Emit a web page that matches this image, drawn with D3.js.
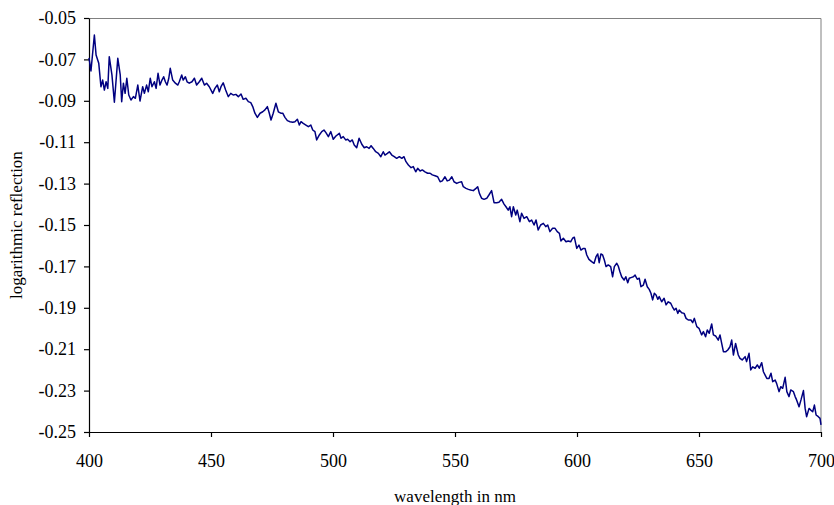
<!DOCTYPE html>
<html>
<head>
<meta charset="utf-8">
<script src="https://cdn.jsdelivr.net/npm/d3@7"></script>
<style>
  body { margin: 0; background: #fff; }
  text { font-family: "Liberation Serif", "Times New Roman", serif; }
</style>
</head>
<body>
<div id="chart"></div>
<script>
var width = 834;
var height = 505;

// wavelength (nm) and logarithmic reflection
var wavelength = [
  400.0, 400.8, 402.2, 402.9, 404.0, 404.9, 405.6, 406.3, 407.0, 407.7,
  408.3, 409.4, 410.4, 411.8, 412.8, 413.4, 414.1, 414.8, 415.5, 416.3,
  417.2, 418.2, 419.0, 420.0, 420.9, 422.0, 422.7, 423.6, 424.3, 425.1,
  425.8, 426.8, 427.5, 428.3, 429.1, 429.9, 430.6, 431.3, 432.0, 432.7,
  433.3, 434.3, 435.4, 436.4, 437.0, 438.0, 438.6, 439.5, 440.2, 441.1,
  442.2, 443.2, 444.1, 445.2, 446.2, 447.3, 448.2, 449.3, 450.7, 451.6,
  452.6, 453.4, 454.1, 455.0, 456.0, 457.1, 458.1, 459.1, 460.2, 461.2,
  462.3, 463.2, 464.3, 465.3, 466.3, 467.1, 468.0, 469.0, 470.1, 471.2,
  472.1, 473.1, 473.9, 474.6, 475.5, 476.6, 477.6, 478.6, 479.4, 480.3,
  481.3, 482.4, 483.5, 484.4, 485.4, 486.2, 486.9, 487.8, 488.9, 489.9,
  490.9, 491.7, 492.6, 493.3, 494.4, 495.4, 496.3, 497.1, 498.1, 499.1,
  500.1, 501.2, 502.6, 503.3, 504.2, 505.2, 506.0, 507.0, 507.9, 508.7,
  509.7, 510.7, 511.8, 512.8, 513.8, 514.8, 515.6, 516.5, 517.5, 518.6,
  519.6, 520.6, 521.3, 522.3, 523.1, 524.1, 525.1, 526.1, 527.2, 528.2,
  529.1, 529.9, 530.9, 532.0, 532.9, 533.9, 534.7, 535.7, 536.6, 537.7,
  538.8, 539.8, 540.7, 541.8, 542.9, 543.9, 544.8, 545.9, 546.8, 547.7,
  548.7, 549.6, 550.7, 551.6, 552.7, 553.4, 554.5, 555.5, 556.4, 557.5,
  558.6, 559.3, 560.0, 560.9, 561.9, 563.0, 563.9, 565.0, 566.0, 567.1,
  568.0, 569.1, 570.1, 570.9, 571.8, 572.5, 573.2, 573.9, 574.9, 575.5,
  576.6, 577.3, 578.3, 579.4, 580.5, 581.4, 582.4, 583.2, 584.1, 585.1,
  586.2, 587.2, 588.0, 588.9, 590.0, 591.0, 591.9, 592.8, 593.4, 594.4,
  595.5, 596.4, 597.4, 598.2, 598.9, 599.9, 600.8, 601.6, 602.6, 603.3,
  604.0, 604.9, 606.0, 607.0, 607.8, 608.5, 609.1, 609.8, 610.5, 611.2,
  611.9, 612.8, 613.8, 614.6, 615.3, 616.3, 616.9, 617.6, 618.3, 619.3,
  620.0, 620.8, 621.4, 622.4, 623.1, 623.8, 624.7, 625.5, 626.2, 627.2,
  627.9, 628.8, 629.6, 630.3, 631.0, 631.7, 632.4, 633.1, 633.7, 634.7,
  635.7, 636.5, 637.4, 638.4, 639.1, 639.9, 640.6, 641.3, 641.9, 642.9,
  643.9, 644.7, 645.6, 646.7, 647.4, 648.1, 649.1, 650.0, 651.1, 651.8,
  652.7, 653.4, 654.2, 655.2, 655.9, 656.8, 657.9, 658.6, 659.3, 660.0,
  661.0, 661.8, 662.7, 663.4, 664.1, 665.0, 666.1, 666.8, 667.7, 668.9,
  669.5, 670.5, 671.2, 672.0, 673.0, 673.9, 674.7, 675.7, 676.4, 677.1,
  677.8, 678.7, 679.5, 680.2, 681.2, 681.8, 682.8, 683.5, 684.3, 685.3,
  686.0, 686.9, 687.6, 688.7, 689.4, 690.0, 691.0, 691.8, 692.8, 693.5,
  694.1, 695.1, 695.8, 696.6, 697.3, 698.0, 698.9, 699.6, 700.0
];

var reflection = [
  -0.0693, -0.0756, -0.0582, -0.0679, -0.0719, -0.0832, -0.0800, -0.0848, -0.0808, -0.0840,
  -0.0687, -0.0775, -0.0907, -0.0695, -0.0775, -0.0904, -0.0815, -0.0864, -0.0791, -0.0872,
  -0.0896, -0.0880, -0.0888, -0.0824, -0.0901, -0.0832, -0.0864, -0.0824, -0.0856, -0.0791,
  -0.0832, -0.0808, -0.0840, -0.0767, -0.0824, -0.0800, -0.0784, -0.0808, -0.0824, -0.0791,
  -0.0743, -0.0800, -0.0815, -0.0824, -0.0808, -0.0775, -0.0800, -0.0784, -0.0808, -0.0815,
  -0.0808, -0.0791, -0.0824, -0.0808, -0.0791, -0.0824, -0.0815, -0.0832, -0.0864, -0.0840,
  -0.0824, -0.0856, -0.0832, -0.0813, -0.0848, -0.0880, -0.0864, -0.0872, -0.0869, -0.0880,
  -0.0867, -0.0893, -0.0888, -0.0904, -0.0909, -0.0928, -0.0960, -0.0980, -0.0960, -0.0953,
  -0.0944, -0.0928, -0.0960, -0.0993, -0.0960, -0.0912, -0.0953, -0.0960, -0.0960, -0.0980,
  -0.0996, -0.1001, -0.1004, -0.1001, -0.0989, -0.1017, -0.1001, -0.1009, -0.1017, -0.1025,
  -0.1017, -0.1041, -0.1049, -0.1089, -0.1065, -0.1049, -0.1041, -0.1054, -0.1073, -0.1049,
  -0.1086, -0.1070, -0.1057, -0.1081, -0.1073, -0.1089, -0.1086, -0.1098, -0.1089, -0.1114,
  -0.1127, -0.1081, -0.1110, -0.1127, -0.1122, -0.1130, -0.1117, -0.1130, -0.1146, -0.1154,
  -0.1170, -0.1146, -0.1162, -0.1154, -0.1146, -0.1162, -0.1170, -0.1178, -0.1170, -0.1178,
  -0.1170, -0.1194, -0.1210, -0.1223, -0.1218, -0.1243, -0.1226, -0.1239, -0.1234, -0.1243,
  -0.1250, -0.1250, -0.1258, -0.1262, -0.1267, -0.1291, -0.1287, -0.1267, -0.1287, -0.1283,
  -0.1267, -0.1291, -0.1299, -0.1294, -0.1291, -0.1315, -0.1323, -0.1328, -0.1331, -0.1334,
  -0.1323, -0.1315, -0.1347, -0.1371, -0.1376, -0.1371, -0.1355, -0.1334, -0.1392, -0.1392,
  -0.1390, -0.1376, -0.1399, -0.1412, -0.1428, -0.1412, -0.1460, -0.1412, -0.1452, -0.1428,
  -0.1484, -0.1443, -0.1468, -0.1460, -0.1484, -0.1476, -0.1500, -0.1476, -0.1524, -0.1500,
  -0.1492, -0.1508, -0.1500, -0.1532, -0.1516, -0.1516, -0.1532, -0.1540, -0.1577, -0.1564,
  -0.1581, -0.1577, -0.1581, -0.1564, -0.1559, -0.1613, -0.1597, -0.1621, -0.1613, -0.1613,
  -0.1645, -0.1666, -0.1677, -0.1685, -0.1653, -0.1640, -0.1682, -0.1640, -0.1645, -0.1669,
  -0.1701, -0.1693, -0.1701, -0.1750, -0.1701, -0.1685, -0.1698, -0.1726, -0.1750, -0.1766,
  -0.1750, -0.1779, -0.1757, -0.1753, -0.1750, -0.1742, -0.1762, -0.1757, -0.1798, -0.1790,
  -0.1762, -0.1798, -0.1811, -0.1830, -0.1862, -0.1830, -0.1838, -0.1859, -0.1846, -0.1871,
  -0.1854, -0.1886, -0.1871, -0.1878, -0.1895, -0.1911, -0.1902, -0.1927, -0.1911, -0.1924,
  -0.1927, -0.1951, -0.1959, -0.1959, -0.1972, -0.1951, -0.1991, -0.1999, -0.2031, -0.2015,
  -0.2040, -0.2007, -0.2023, -0.1978, -0.2031, -0.2036, -0.2056, -0.2031, -0.2072, -0.2112,
  -0.2112, -0.2104, -0.2088, -0.2056, -0.2128, -0.2072, -0.2128, -0.2144, -0.2152, -0.2136,
  -0.2160, -0.2120, -0.2200, -0.2185, -0.2192, -0.2176, -0.2192, -0.2165, -0.2209, -0.2225,
  -0.2241, -0.2241, -0.2216, -0.2257, -0.2249, -0.2265, -0.2305, -0.2281, -0.2289, -0.2236,
  -0.2305, -0.2329, -0.2297, -0.2305, -0.2329, -0.2345, -0.2378, -0.2345, -0.2300, -0.2386,
  -0.2426, -0.2386, -0.2394, -0.2402, -0.2370, -0.2418, -0.2426, -0.2434, -0.2466
];

var xTicks = [400, 450, 500, 550, 600, 650, 700];
var yTicks = [-0.05, -0.07, -0.09, -0.11, -0.13, -0.15, -0.17, -0.19, -0.21, -0.23, -0.25];

var xTitle = "wavelength in nm";
var yTitle = "logarithmic reflection";

var margin = {top: 18, right: 13, bottom: 73, left: 89};
var plotW = width - margin.left - margin.right;
var plotH = height - margin.top - margin.bottom;

var svg = d3.select("#chart")
    .append("svg")
    .attr("width", width)
    .attr("height", height);

var g = svg.append("g")
    .attr("transform", "translate(" + margin.left + "," + margin.top + ")");

var x = d3.scaleLinear().domain([400, 700]).range([0, plotW]);
var y = d3.scaleLinear().domain([-0.25, -0.05]).range([plotH, 0]);

// grey frame on top and right
g.append("path")
    .attr("d", "M0,0.5H" + plotW + "V" + plotH)
    .attr("fill", "none")
    .attr("stroke", "#808080")
    .attr("stroke-width", 1);

var yAxis = g.append("g")
    .call(d3.axisLeft(y)
        .tickValues(yTicks)
        .tickSize(5)
        .tickSizeOuter(0)
        .tickFormat(function (d) { return d.toFixed(2); }));

var xAxis = g.append("g")
    .attr("transform", "translate(0," + plotH + ")")
    .call(d3.axisBottom(x)
        .tickValues(xTicks)
        .tickSize(5)
        .tickSizeOuter(0)
        .tickFormat(function (d) { return d; }));

[yAxis, xAxis].forEach(function (a) {
    a.selectAll("path, line").attr("stroke", "#000").attr("stroke-width", 1.2);
    a.selectAll("text")
        .attr("fill", "#000")
        .style("font-family", "'Liberation Serif', serif")
        .style("font-size", "18px");
});
yAxis.selectAll("text").attr("x", -13);
xAxis.selectAll("text").attr("y", 22);

var points = wavelength.map(function (w, i) { return [w, reflection[i]]; });

var line = d3.line()
    .x(function (d) { return x(d[0]); })
    .y(function (d) { return y(d[1]); });

g.append("path")
    .datum(points)
    .attr("d", line)
    .attr("fill", "none")
    .attr("stroke", "#000080")
    .attr("stroke-width", 1.5)
    .attr("stroke-linejoin", "round");

// axis titles
svg.append("text")
    .attr("x", margin.left + plotW / 2)
    .attr("y", 502)
    .attr("text-anchor", "middle")
    .style("font-size", "17px")
    .text(xTitle);

svg.append("text")
    .attr("transform", "translate(22," + (margin.top + plotH / 2) + ") rotate(-90)")
    .attr("text-anchor", "middle")
    .style("font-size", "17px")
    .text(yTitle);
</script>
</body>
</html>
